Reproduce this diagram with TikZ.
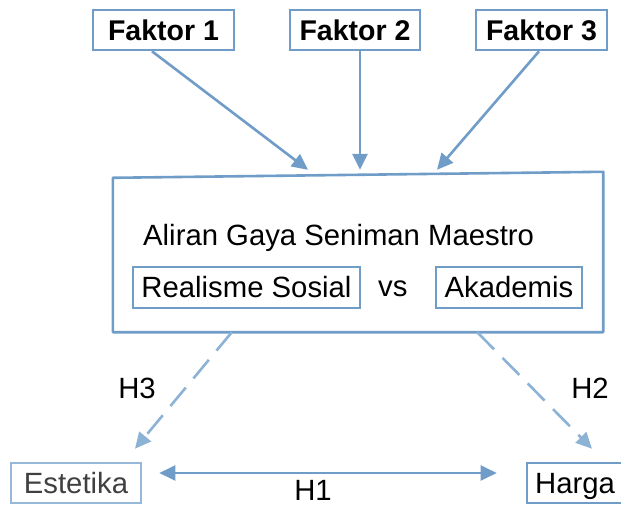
\documentclass[tikz,border=0pt]{standalone}
\usepackage{fontspec}
\setmainfont{Liberation Sans}
\usetikzlibrary{arrows.meta}
\definecolor{bl}{RGB}{112,156,200}
\definecolor{bllight}{RGB}{140,178,214}
\definecolor{estb}{RGB}{150,185,218}
\definecolor{esttext}{RGB}{64,64,64}
\begin{document}
\begin{tikzpicture}[x=1pt,y=-1pt,
  big/.style={font=\fontsize{29.3}{31}\selectfont},
  bigb/.style={font=\fontsize{28.5}{30}\selectfont\bfseries},
  box/.style={draw=bl,line width=2.6pt,rectangle,inner sep=0pt,big,text height=20.8pt,text depth=0pt},
  arr/.style={draw=bl,line width=2.6pt,-{Triangle[length=16pt,width=15pt]}},
  dasharr/.style={draw=bllight,line width=2.6pt,dash pattern=on 24pt off 12pt,-{Triangle[length=16pt,width=15pt]}},
  lbl/.style={big,inner sep=0pt}
]
\useasboundingbox (0,0) rectangle (621,505);

% top factor boxes
\node[box,bigb,minimum width=141pt,minimum height=40pt] (f1) at (163.5,30) {Faktor 1};
\node[box,bigb,minimum width=130pt,minimum height=40pt] (f2) at (355,30) {Faktor 2};
\node[box,bigb,minimum width=131pt,minimum height=40pt] (f3) at (541.5,30) {Faktor 3};

% main box
\node[inner sep=0pt,minimum width=490pt,minimum height=154pt] (main) at (358,255) {};
\draw[bl,line width=2.6pt,line join=round] (main.north west) -- ([yshift=6pt]main.north east) -- (main.south east) -- (main.south west) -- cycle;
\node[lbl,anchor=base west] (aliran) at (143,245) {Aliran Gaya Seniman Maestro};
\node[box,minimum width=227pt,minimum height=41pt] (rs) at (246.5,287.5) {Realisme Sosial};
\node[lbl,anchor=base west] (vs) at (378,296) {vs};
\node[box,minimum width=146pt,minimum height=41pt] (ak) at (509,287.5) {Akademis};

% bottom boxes
\node[box,draw=estb,text=esttext,minimum width=130pt,minimum height=40pt] (est) at (76,483) {Estetika};
\node[box,minimum width=96pt,minimum height=40pt] (harga) at (575,483) {Harga};

% arrows from factors
\draw[arr] ([xshift=-11.5pt]f1.south) -- ([xshift=-50pt,yshift=8pt]main.north);
\draw[arr] ([xshift=5pt]f2.south) -- ([xshift=2pt,yshift=8pt]main.north);
\draw[arr] ([xshift=-2.5pt]f3.south) -- ([xshift=79pt,yshift=8pt]main.north);

% dashed hypotheses
\draw[dasharr] ([xshift=119pt]main.south west) -- ([xshift=59pt,yshift=13pt]est.north);
\draw[dasharr] ([xshift=-126pt]main.south east) -- ([xshift=17pt,yshift=13pt]harga.north);

% H1 double arrow
\draw[draw=bl,line width=2.4pt,{Triangle[length=16pt,width=15pt]}-{Triangle[length=16pt,width=15pt]}] ([xshift=17pt,yshift=10pt]est.east) -- ([xshift=-29pt,yshift=10pt]harga.west);

% labels
\node[lbl] (h3) at (137,388) {H3};
\node[lbl] (h2) at (590,388) {H2};
\node[lbl] (h1) at (313,490) {H1};
\end{tikzpicture}
\end{document}
